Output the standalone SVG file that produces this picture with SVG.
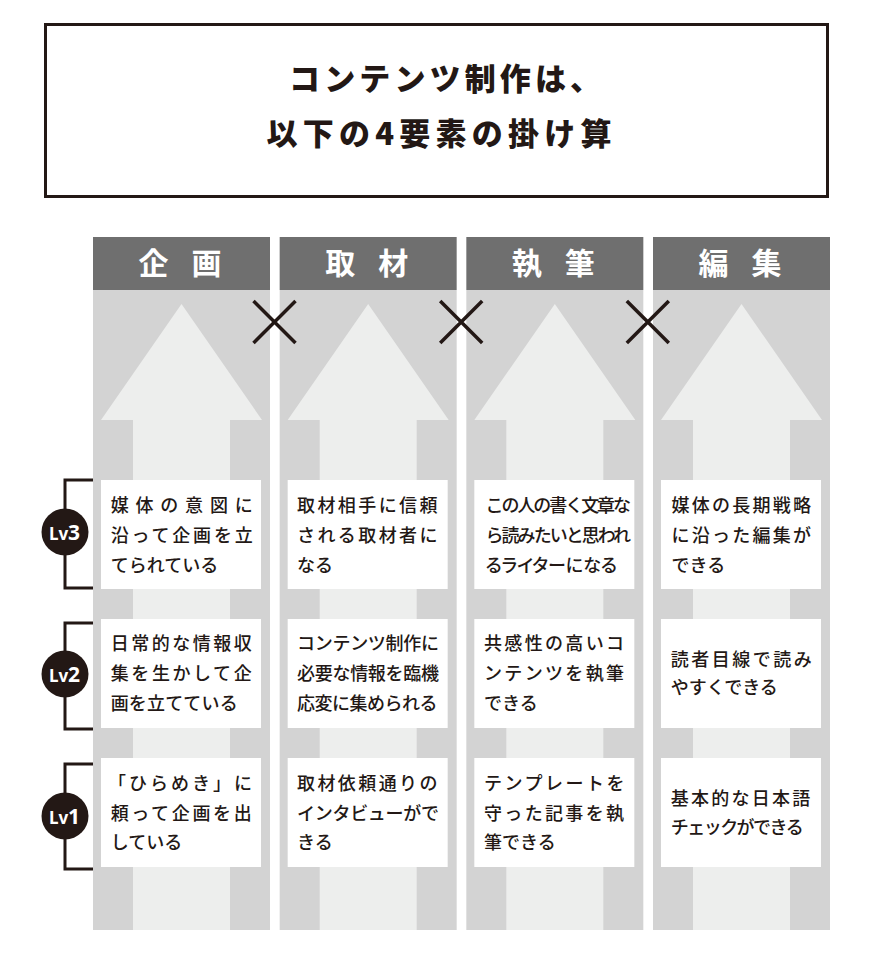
<svg xmlns="http://www.w3.org/2000/svg" width="878" height="956" viewBox="0 0 878 956">
<style>
.title{font-family:"Noto Sans CJK JP","Noto Sans CJK SC",sans-serif;font-weight:900;font-size:31px;fill:#231815}
.hdr{font-family:"Noto Sans CJK JP",sans-serif;font-weight:700;font-size:30px;fill:#ffffff;text-anchor:middle}
.hbar{fill:#6f6f6f}
.col{fill:#d3d3d3}
.arrow{fill:#edeeed}
.box{fill:#ffffff}
.t{font-family:"Noto Sans CJK JP",sans-serif;font-weight:500;font-size:18px;fill:#231815}
.palt{font-feature-settings:"palt" 1}
.x{stroke:#231815;stroke-width:3.5;fill:none}
.br{stroke:#231815;stroke-width:3;fill:none}
.lvc{fill:#231815}
.lv{font-family:"Noto Sans","Open Sans",sans-serif;font-weight:700;fill:#ffffff;text-anchor:middle}
</style>
<rect width="878" height="956" fill="#ffffff"/>
<g id="title">
<rect x="45.5" y="24.5" width="782" height="172" fill="#ffffff" stroke="#231815" stroke-width="3"/>
<text class="title" x="289" y="90" textLength="312" lengthAdjust="spacing">コンテンツ制作は、</text>
<text class="title" x="266.5" y="144.5" textLength="345" lengthAdjust="spacing">以下の4要素の掛け算</text>
</g>
<g id="col-kikaku">
<rect class="hbar" x="93" y="237" width="177" height="53"/>
<text class="hdr" x="153.5 206.5" y="274">企画</text>
<rect class="col" x="93" y="290" width="177" height="640"/>
<polygon class="arrow" points="181.5,304 262,420 230,420 230,930 133,930 133,420 101,420"/>
</g>
<g id="col-shuzai">
<rect class="hbar" x="279.67" y="237" width="177" height="53"/>
<text class="hdr" x="340.2 393.2" y="274">取材</text>
<rect class="col" x="279.67" y="290" width="177" height="640"/>
<polygon class="arrow" points="368.17,304 448.67,420 416.67,420 416.67,930 319.67,930 319.67,420 287.67,420"/>
</g>
<g id="col-shippitsu">
<rect class="hbar" x="466.33" y="237" width="177" height="53"/>
<text class="hdr" x="526.8 579.8" y="274">執筆</text>
<rect class="col" x="466.33" y="290" width="177" height="640"/>
<polygon class="arrow" points="554.83,304 635.33,420 603.33,420 603.33,930 506.33,930 506.33,420 474.33,420"/>
</g>
<g id="col-henshu">
<rect class="hbar" x="653" y="237" width="177" height="53"/>
<text class="hdr" x="713.5 766.5" y="274">編集</text>
<rect class="col" x="653" y="290" width="177" height="640"/>
<polygon class="arrow" points="741.5,304 822,420 790,420 790,930 693,930 693,420 661,420"/>
</g>
<g id="crosses">
<path class="x" d="M253.5 301 L295.5 343 M295.5 301 L253.5 343"/>
<path class="x" d="M440.2 301 L482.2 343 M482.2 301 L440.2 343"/>
<path class="x" d="M626.8 301 L668.8 343 M668.8 301 L626.8 343"/>
</g>
<g id="connectors">
<path class="br" d="M93 480 H65 V588 H93"/>
<path class="br" d="M93 623 H65 V729 H93"/>
<path class="br" d="M93 764 H65 V869 H93"/>
</g>
<g id="lv3">
<circle class="lvc" cx="65" cy="532" r="23.5"/>
<text class="lv" x="64.5" y="540"><tspan font-size="17">Lv</tspan><tspan font-size="21">3</tspan></text>
</g>
<g id="lv2">
<circle class="lvc" cx="65" cy="674" r="23.5"/>
<text class="lv" x="64.5" y="682"><tspan font-size="17">Lv</tspan><tspan font-size="21">2</tspan></text>
</g>
<g id="lv1">
<circle class="lvc" cx="65" cy="816" r="23.5"/>
<text class="lv" x="64.5" y="824"><tspan font-size="17">Lv</tspan><tspan font-size="21">1</tspan></text>
</g>
<g id="box-kikaku-lv3">
<rect class="box" x="101" y="480" width="160" height="109"/>
<text class="t" x="110.7" y="512" textLength="142" lengthAdjust="spacing">媒体の意図に</text>
<text class="t" x="110.7" y="542" textLength="142" lengthAdjust="spacing">沿って企画を立</text>
<text class="t" x="110.7" y="572">てられている</text>
</g>
<g id="box-shuzai-lv3">
<rect class="box" x="287.67" y="480" width="160" height="109"/>
<text class="t" x="297" y="512" textLength="140.5" lengthAdjust="spacing">取材相手に信頼</text>
<text class="t" x="297" y="542" textLength="140.5" lengthAdjust="spacing">される取材者に</text>
<text class="t" x="297" y="572">なる</text>
</g>
<g id="box-shippitsu-lv3">
<rect class="box" x="474.33" y="480" width="160" height="109"/>
<text class="t" x="485.5" y="512" textLength="145.5" lengthAdjust="spacing">この人の書く文章な</text>
<text class="t" x="485.5" y="542" textLength="145.5" lengthAdjust="spacing">ら読みたいと思われ</text>
<text class="t palt" x="485.5" y="572">るライターになる</text>
</g>
<g id="box-henshu-lv3">
<rect class="box" x="661" y="480" width="160" height="109"/>
<text class="t" x="671.5" y="512" textLength="139.5" lengthAdjust="spacing">媒体の長期戦略</text>
<text class="t" x="671.5" y="542" textLength="139.5" lengthAdjust="spacing">に沿った編集が</text>
<text class="t" x="671.5" y="572">できる</text>
</g>
<g id="box-kikaku-lv2">
<rect class="box" x="101" y="619" width="160" height="109"/>
<text class="t" x="110.7" y="650" textLength="141" lengthAdjust="spacing">日常的な情報収</text>
<text class="t" x="110.7" y="680" textLength="141" lengthAdjust="spacing">集を生かして企</text>
<text class="t" x="110.7" y="710" textLength="127" lengthAdjust="spacing">画を立てている</text>
</g>
<g id="box-shuzai-lv2">
<rect class="box" x="287.67" y="619" width="160" height="109"/>
<text class="t" x="297" y="650" textLength="142" lengthAdjust="spacing">コンテンツ制作に</text>
<text class="t" x="297" y="680" textLength="142" lengthAdjust="spacing">必要な情報を臨機</text>
<text class="t" x="297" y="710" textLength="140.5" lengthAdjust="spacing">応変に集められる</text>
</g>
<g id="box-shippitsu-lv2">
<rect class="box" x="474.33" y="619" width="160" height="109"/>
<text class="t" x="484" y="650" textLength="140" lengthAdjust="spacing">共感性の高いコ</text>
<text class="t" x="484" y="680" textLength="140" lengthAdjust="spacing">ンテンツを執筆</text>
<text class="t" x="484" y="710">できる</text>
</g>
<g id="box-henshu-lv2">
<rect class="box" x="661" y="619" width="160" height="109"/>
<text class="t" x="670.7" y="665.5" textLength="141" lengthAdjust="spacing">読者目線で読み</text>
<text class="t" x="670.7" y="694">やすくできる</text>
</g>
<g id="box-kikaku-lv1">
<rect class="box" x="101" y="758" width="160" height="109"/>
<text class="t" x="108" y="790" textLength="144" lengthAdjust="spacing">「ひらめき」に</text>
<text class="t" x="110.7" y="819.5" textLength="141" lengthAdjust="spacing">頼って企画を出</text>
<text class="t" x="110.7" y="849">している</text>
</g>
<g id="box-shuzai-lv1">
<rect class="box" x="287.67" y="758" width="160" height="109"/>
<text class="t" x="297" y="790" textLength="140.5" lengthAdjust="spacing">取材依頼通りの</text>
<text class="t" x="297" y="819.5" textLength="142" lengthAdjust="spacing">インタビューがで</text>
<text class="t" x="297" y="849">きる</text>
</g>
<g id="box-shippitsu-lv1">
<rect class="box" x="474.33" y="758" width="160" height="109"/>
<text class="t" x="484" y="790" textLength="140.5" lengthAdjust="spacing">テンプレートを</text>
<text class="t" x="484" y="819.5" textLength="140" lengthAdjust="spacing">守った記事を執</text>
<text class="t" x="484" y="849">筆できる</text>
</g>
<g id="box-henshu-lv1">
<rect class="box" x="661" y="758" width="160" height="109"/>
<text class="t" x="670.7" y="805" textLength="139.5" lengthAdjust="spacing">基本的な日本語</text>
<text class="t" x="670.7" y="833.5" textLength="133" lengthAdjust="spacing">チェックができる</text>
</g>
</svg>
